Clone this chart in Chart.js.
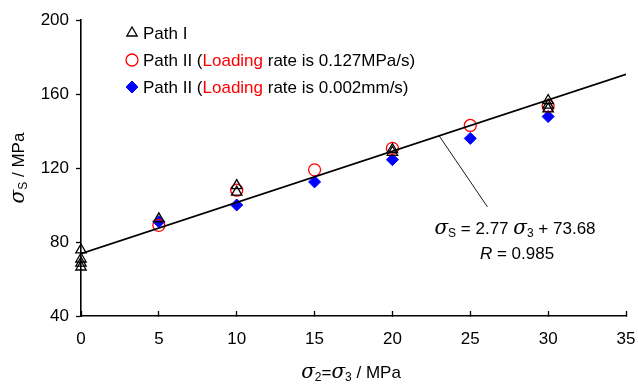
<!DOCTYPE html>
<html>
<head>
<meta charset="utf-8">
<script src="https://cdn.jsdelivr.net/npm/chart.js@4.4.0/dist/chart.umd.min.js"></script>
<style>
  html, body { margin: 0; padding: 0; background: #fff; }
  #wrap { width: 638px; height: 385px; }
</style>
</head>
<body>
<div id="wrap"><canvas id="chart"></canvas></div>
<script>
// data
const pathIX = [0, 0, 0, 0, 5, 10, 10, 20, 20, 30, 30, 30];
const pathIY = [75.7, 70.8, 68.6, 66.5, 92.5, 110.5, 107, 130, 128.5, 156.5, 154, 152];

const rateX = [5, 10, 15, 20, 25, 30];
const rateMPaY = [89, 108, 119, 130.6, 143, 153.5];   // 0.127 MPa/s
const rateMmY = [91, 100, 112.5, 124.5, 136, 147.8];  // 0.002 mm/s

const fitX = [0, 35];
const fitY = [73.68, 170.63];
const leaderX = [23, 26.1];
const leaderY = [137.4, 99];

const xTicks = [0, 5, 10, 15, 20, 25, 30, 35];
const yTicks = [40, 80, 120, 160, 200];

const FONT = '"Liberation Sans", Arial, sans-serif';

function pts(xs, ys) {
    return xs.map((x, i) => ({ x: x, y: ys[i] }));
}

// draw a line of mixed text pieces, centred on cx
function drawRich(ctx, parts, cx, y) {
    let w = 0;
    parts.forEach(p => { ctx.font = p.font; w += ctx.measureText(p.t).width; });
    let x = cx - w / 2;
    parts.forEach(p => {
        ctx.font = p.font;
        ctx.fillStyle = p.color || '#000';
        ctx.fillText(p.t, x, y + (p.dy || 0));
        x += ctx.measureText(p.t).width;
    });
}

const sig = 'italic 20px "DejaVu Serif", serif';
const txt = '17px ' + FONT;
const sub = '12px ' + FONT;

const extras = {
    id: 'extras',
    afterDraw(chart) {
        const ctx = chart.ctx;
        ctx.save();
        ctx.textBaseline = 'alphabetic';
        ctx.textAlign = 'left';

        // legend
        const lx = 132, tx = 143;
        const rows = [33, 60, 87];
        ctx.fillStyle = 'rgba(0,0,0,0)';
        ctx.strokeStyle = '#000';
        ctx.lineWidth = 1.3;
        Chart.helpers.drawPoint(ctx, { pointStyle: 'triangle', radius: 6, borderWidth: 1.3 }, lx, rows[0]);
        ctx.strokeStyle = '#ff0000';
        Chart.helpers.drawPoint(ctx, { pointStyle: 'circle', radius: 6, borderWidth: 1.3 }, lx, rows[1]);
        ctx.fillStyle = '#0000ff';
        ctx.strokeStyle = '#0000ff';
        ctx.lineWidth = 1;
        Chart.helpers.drawPoint(ctx, { pointStyle: 'rectRot', radius: 6, borderWidth: 1 }, lx, rows[2]);

        ctx.font = txt;
        ctx.fillStyle = '#000';
        ctx.fillText('Path I', tx, rows[0] + 6);
        const rowText = (y, tail) => {
            let x = tx;
            const seg = [['Path II (', '#000'], ['Loading', '#ff0000'], [tail, '#000']];
            seg.forEach(s => {
                ctx.fillStyle = s[1];
                ctx.fillText(s[0], x, y);
                x += ctx.measureText(s[0]).width;
            });
        };
        rowText(rows[1] + 6, ' rate is 0.127MPa/s)');
        rowText(rows[2] + 6, ' rate is 0.002mm/s)');

        // fit equation
        drawRich(ctx, [
            { t: 'σ', font: sig },
            { t: 'S', font: sub, dy: 3 },
            { t: ' = 2.77 ', font: txt },
            { t: 'σ', font: sig },
            { t: '3', font: sub, dy: 3 },
            { t: ' + 73.68', font: txt }
        ], 515, 234);
        drawRich(ctx, [
            { t: 'R', font: 'italic 17px ' + FONT },
            { t: ' = 0.985', font: txt }
        ], 517, 259);

        // x title
        drawRich(ctx, [
            { t: 'σ', font: sig },
            { t: '2', font: sub, dy: 3 },
            { t: '=', font: txt },
            { t: 'σ', font: sig },
            { t: '3', font: sub, dy: 3 },
            { t: ' / MPa', font: txt }
        ], 351, 378);

        // y title
        ctx.translate(24, 168);
        ctx.rotate(-Math.PI / 2);
        drawRich(ctx, [
            { t: 'σ', font: sig },
            { t: 'S', font: sub, dy: 3 },
            { t: ' / MPa', font: txt }
        ], 0, 0);
        ctx.restore();
    }
};

new Chart(document.getElementById('chart'), {
    type: 'scatter',
    data: {
        datasets: [
            {
                label: 'fit',
                data: pts(fitX, fitY),
                showLine: true,
                borderColor: '#000',
                borderWidth: 1.6,
                pointRadius: 0
            },
            {
                label: 'leader',
                data: pts(leaderX, leaderY),
                showLine: true,
                borderColor: '#000',
                borderWidth: 0.9,
                pointRadius: 0
            },
            {
                label: 'Path I',
                data: pts(pathIX, pathIY),
                pointStyle: 'triangle',
                pointRadius: 6,
                borderColor: '#000',
                backgroundColor: 'rgba(0,0,0,0)',
                borderWidth: 1.3,
                clip: false
            },
            {
                label: 'Path II 0.127MPa/s',
                data: pts(rateX, rateMPaY),
                pointStyle: 'circle',
                pointRadius: 6,
                borderColor: '#ff0000',
                backgroundColor: 'rgba(0,0,0,0)',
                borderWidth: 1.3,
                clip: false
            },
            {
                label: 'Path II 0.002mm/s',
                data: pts(rateX, rateMmY),
                pointStyle: 'rectRot',
                pointRadius: 6,
                borderColor: '#0000ff',
                backgroundColor: '#0000ff',
                borderWidth: 1,
                clip: false
            }
        ]
    },
    options: {
        responsive: true,
        maintainAspectRatio: false,
        animation: false,
        layout: { padding: { top: 20, right: 12, left: 0, bottom: 0 } },
        plugins: {
            legend: { display: false },
            tooltip: { enabled: false }
        },
        scales: {
            x: {
                type: 'linear',
                min: 0,
                max: 35,
                afterBuildTicks: s => { s.ticks = xTicks.map(v => ({ value: v })); },
                afterFit: s => { s.height = 69; s.paddingRight = 0; s.paddingLeft = 0; },
                grid: { drawOnChartArea: false, color: '#000', tickLength: -5, tickWidth: 1.3 },
                border: { color: '#000', width: 1.6 },
                ticks: { color: '#000', font: { family: FONT, size: 17 }, padding: 18, maxRotation: 0 }
            },
            y: {
                type: 'linear',
                min: 40,
                max: 200,
                afterBuildTicks: s => { s.ticks = yTicks.map(v => ({ value: v })); },
                afterFit: s => { s.width = 81; },
                grid: { drawOnChartArea: false, color: '#000', tickLength: 5, tickWidth: 1.3 },
                border: { color: '#000', width: 1.6 },
                ticks: { color: '#000', font: { family: FONT, size: 17 }, padding: 7 }
            }
        }
    },
    plugins: [extras]
});
</script>
</body>
</html>
